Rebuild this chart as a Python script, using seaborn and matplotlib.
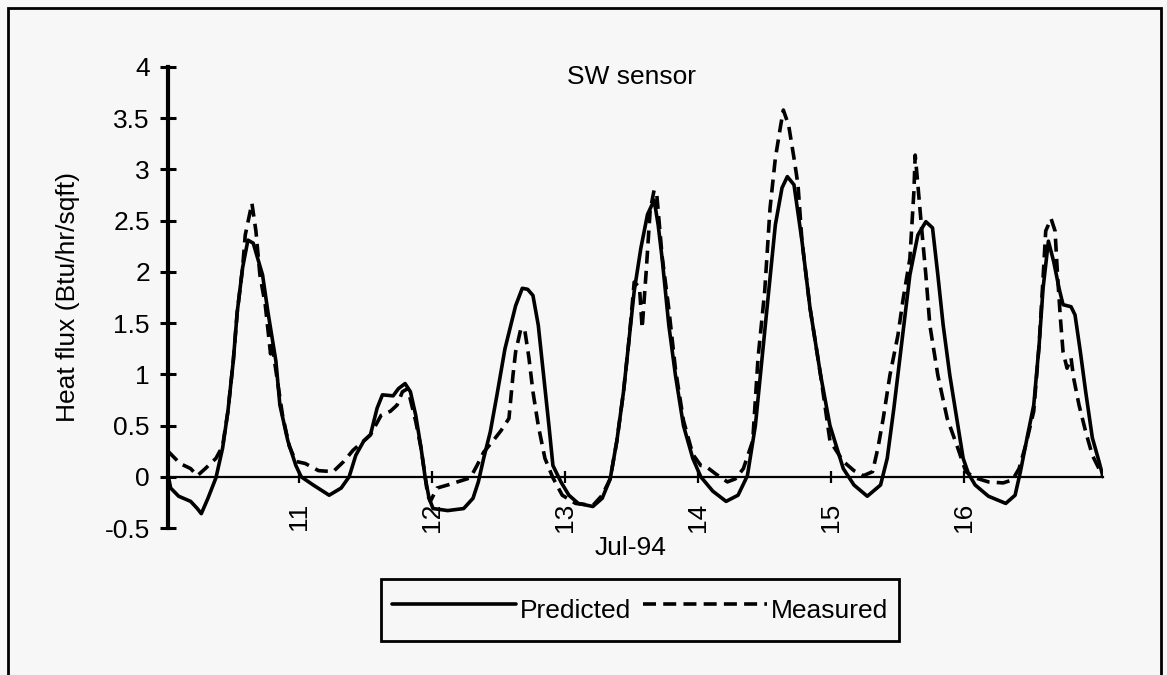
import matplotlib
matplotlib.use("Agg")
import matplotlib.pyplot as plt
from matplotlib.patches import Rectangle
import numpy as np
import pandas as pd
import seaborn as sns

# ---------------- data ----------------
pred_day = [10.02, 10.04, 10.10, 10.19, 10.24, 10.27, 10.32, 10.38, 10.43, 10.47,
            10.51, 10.54, 10.58, 10.62, 10.66, 10.73, 10.77, 10.83, 10.86, 10.92,
            10.98, 11.02, 11.11, 11.23, 11.32, 11.38, 11.43, 11.49, 11.54, 11.59,
            11.63, 11.71, 11.75, 11.80, 11.84, 11.88, 11.92, 11.95, 11.98, 12.01,
            12.12, 12.24, 12.31, 12.35, 12.39, 12.44, 12.49, 12.55, 12.63, 12.68,
            12.72, 12.76, 12.80, 12.84, 12.88, 12.91, 12.97, 13.03, 13.10, 13.21,
            13.28, 13.34, 13.39, 13.44, 13.48, 13.52, 13.57, 13.62, 13.67, 13.70,
            13.73, 13.78, 13.83, 13.89, 13.96, 14.02, 14.11, 14.21, 14.30, 14.37,
            14.43, 14.48, 14.53, 14.58, 14.63, 14.67, 14.72, 14.78, 14.84, 14.92,
            14.99, 15.09, 15.17, 15.27, 15.37, 15.42, 15.47, 15.53, 15.59, 15.65,
            15.71, 15.76, 15.80, 15.84, 15.89, 15.95, 15.99, 16.03, 16.08, 16.18,
            16.31, 16.38, 16.42, 16.47, 16.52, 16.56, 16.59, 16.63, 16.67, 16.71,
            16.74, 16.80, 16.83, 16.87, 16.91, 16.96, 17.01, 17.04]
pred_flux = [0.02, -0.11, -0.19, -0.24, -0.31, -0.36, -0.21, -0.01, 0.28, 0.64,
             1.13, 1.61, 2.04, 2.31, 2.28, 1.97, 1.61, 1.13, 0.70, 0.35,
             0.11, 0.00, -0.08, -0.18, -0.11, 0.00, 0.21, 0.35, 0.41, 0.67,
             0.80, 0.79, 0.86, 0.91, 0.83, 0.60, 0.28, 0.00, -0.21, -0.31,
             -0.33, -0.31, -0.21, -0.05, 0.18, 0.44, 0.80, 1.25, 1.67, 1.84,
             1.83, 1.77, 1.48, 0.99, 0.50, 0.11, -0.05, -0.18, -0.26, -0.29,
             -0.21, -0.02, 0.35, 0.83, 1.32, 1.81, 2.23, 2.56, 2.70, 2.46,
             2.13, 1.48, 0.99, 0.50, 0.18, 0.00, -0.14, -0.24, -0.18, 0.01,
             0.50, 1.16, 1.81, 2.46, 2.82, 2.93, 2.85, 2.30, 1.65, 0.99,
             0.50, 0.08, -0.08, -0.19, -0.08, 0.18, 0.67, 1.32, 1.97, 2.36,
             2.49, 2.43, 1.97, 1.48, 0.99, 0.50, 0.18, 0.03, -0.08, -0.19,
             -0.26, -0.18, 0.05, 0.38, 0.70, 1.28, 1.84, 2.30, 2.10, 1.84,
             1.68, 1.66, 1.58, 1.22, 0.83, 0.38, 0.15, 0.00]

meas_day = [10.02, 10.11, 10.19, 10.24, 10.30, 10.38, 10.43, 10.47, 10.51, 10.54,
            10.58, 10.60, 10.65, 10.68, 10.71, 10.75, 10.79, 10.80, 10.84, 10.88,
            10.93, 10.98, 11.05, 11.15, 11.26, 11.34, 11.41, 11.49, 11.54, 11.62,
            11.69, 11.74, 11.78, 11.82, 11.88, 11.92, 11.95, 11.97, 11.99, 12.04,
            12.12, 12.24, 12.29, 12.34, 12.39, 12.46, 12.52, 12.58, 12.61, 12.63,
            12.67, 12.70, 12.73, 12.76, 12.80, 12.85, 12.91, 12.98, 13.08, 13.21,
            13.28, 13.34, 13.39, 13.44, 13.48, 13.50, 13.52, 13.56, 13.58, 13.61,
            13.64, 13.67, 13.69, 13.73, 13.78, 13.83, 13.89, 13.96, 14.02, 14.06,
            14.13, 14.22, 14.28, 14.34, 14.41, 14.45, 14.50, 14.54, 14.58, 14.62,
            14.64, 14.68, 14.72, 14.75, 14.78, 14.84, 14.92, 14.99, 15.09, 15.17,
            15.24, 15.31, 15.35, 15.39, 15.44, 15.50, 15.54, 15.59, 15.62, 15.63,
            15.65, 15.68, 15.71, 15.74, 15.80, 15.87, 15.95, 16.01, 16.08, 16.18,
            16.29, 16.36, 16.41, 16.46, 16.52, 16.56, 16.59, 16.61, 16.65, 16.68,
            16.70, 16.72, 16.74, 16.77, 16.80, 16.82, 16.86, 16.91, 16.96, 17.01,
            17.04]
meas_flux = [0.25, 0.13, 0.08, 0.01, 0.08, 0.18, 0.30, 0.64, 1.13, 1.61,
             2.04, 2.36, 2.67, 2.40, 1.97, 1.68, 1.20, 1.30, 0.95, 0.60,
             0.30, 0.15, 0.13, 0.06, 0.05, 0.15, 0.26, 0.35, 0.41, 0.60,
             0.64, 0.70, 0.83, 0.86, 0.54, 0.28, 0.00, -0.18, -0.24, -0.11,
             -0.08, -0.03, -0.01, 0.11, 0.24, 0.35, 0.45, 0.57, 0.99, 1.22,
             1.45, 1.42, 1.16, 0.83, 0.50, 0.18, -0.01, -0.18, -0.26, -0.28,
             -0.18, -0.02, 0.35, 0.83, 1.32, 1.60, 1.90, 1.85, 1.45, 2.00,
             2.60, 2.80, 2.75, 2.15, 1.64, 1.05, 0.55, 0.22, 0.11, 0.10,
             0.03, -0.05, -0.02, 0.08, 0.35, 1.16, 1.81, 2.62, 3.11, 3.43,
             3.58, 3.43, 3.11, 2.85, 2.30, 1.65, 0.99, 0.35, 0.15, 0.06,
             0.01, 0.05, 0.28, 0.57, 0.99, 1.38, 1.74, 2.13, 2.78, 3.14,
             2.85, 2.40, 1.97, 1.48, 0.99, 0.57, 0.28, 0.05, -0.01, -0.05,
             -0.06, -0.03, 0.08, 0.31, 0.64, 1.28, 1.94, 2.40, 2.52, 2.40,
             1.94, 1.55, 1.22, 1.06, 1.16, 0.96, 0.70, 0.44, 0.21, 0.08,
             0.00]

day_ticks = [11, 12, 13, 14, 15, 16]
day_labels = ["11", "12", "13", "14", "15", "16"]
flux_ticks = [-0.5, 0, 0.5, 1, 1.5, 2, 2.5, 3, 3.5, 4]
flux_labels = ["-0.5", "0", "0.5", "1", "1.5", "2", "2.5", "3", "3.5", "4"]
series_names = ["Predicted", "Measured"]
title_text = "SW sensor"
x_title = "Jul-94"
y_title = "Heat flux (Btu/hr/sqft)"

# ---------------- styling ----------------
bg = "#f7f7f7"
sns.set_style("white")
plt.rcParams["font.family"] = ["Liberation Sans", "DejaVu Sans"]
plt.rcParams["text.color"] = "black"
plt.rcParams["axes.labelcolor"] = "black"
plt.rcParams["xtick.color"] = "black"
plt.rcParams["ytick.color"] = "black"
FS = 19

W, H = 1167, 675
fig = plt.figure(figsize=(W / 100, H / 100), dpi=100, facecolor=bg)
ax = fig.add_axes([168 / W, 1 - 528 / H, (1103 - 168) / W, (528 - 67) / H])
ax.set_facecolor("none")

# outer page frame
fig.patches.append(Rectangle((8 / W, -0.02), (1161 - 8) / W, 1.02 - 8 / H,
                             transform=fig.transFigure, fill=False,
                             edgecolor="black", linewidth=2.0))

df_p = pd.DataFrame({"day": pred_day, "flux": pred_flux})
df_m = pd.DataFrame({"day": meas_day, "flux": meas_flux})

sns.lineplot(data=df_p, x="day", y="flux", ax=ax, color="black", linewidth=2.6,
             estimator=None, sort=False, label=series_names[0], legend=False)
sns.lineplot(data=df_m, x="day", y="flux", ax=ax, color="black", linewidth=2.6,
             estimator=None, sort=False, label=series_names[1], legend=False,
             linestyle=(0, (3.6, 2.0)))

ax.set_xlim(pred_day[0], pred_day[-1])
ax.set_ylim(-0.5, 4)

for s in ["top", "right"]:
    ax.spines[s].set_visible(False)
ax.spines["left"].set_linewidth(3.0)
ax.spines["left"].set_color("black")
ax.spines["bottom"].set_position(("data", 0))
ax.spines["bottom"].set_linewidth(1.6)
ax.spines["bottom"].set_color("black")

ax.set_yticks(flux_ticks)
ax.set_yticklabels(flux_labels, fontsize=FS, color="black")
ax.set_xticks(day_ticks)
ax.set_xticklabels(day_labels, fontsize=FS, rotation=90, color="black")
ax.tick_params(axis="y", direction="inout", length=12, width=2.2, pad=7,
               left=True, colors="black")
ax.tick_params(axis="x", direction="inout", length=9, width=1.6, pad=14,
               bottom=True, colors="black")

ax.set_xlabel(x_title, fontsize=FS, color="black")
ax.xaxis.set_label_coords(0.495, -0.018)
ax.set_ylabel(y_title, fontsize=FS, labelpad=18, color="black")

ax.text(0.496, 0.978, title_text, transform=ax.transAxes, ha="center",
        va="center", fontsize=FS, color="black")

handles = ax.get_lines()[:2]
leg = fig.legend(handles, series_names, loc="center",
                 bbox_to_anchor=(640 / W, 1 - 610 / H), ncol=2, fontsize=FS,
                 frameon=True, fancybox=False, shadow=False, borderpad=0.4,
                 handlelength=4.7, handleheight=2.0, handletextpad=0.15,
                 columnspacing=0.45, borderaxespad=0)
for t in leg.get_texts():
    t.set_color("black")
leg.get_frame().set_edgecolor("black")
leg.get_frame().set_linewidth(2.0)
leg.get_frame().set_facecolor(bg)
leg.get_frame().set_alpha(1)

fig.savefig("out.png", dpi=100, facecolor=bg)
